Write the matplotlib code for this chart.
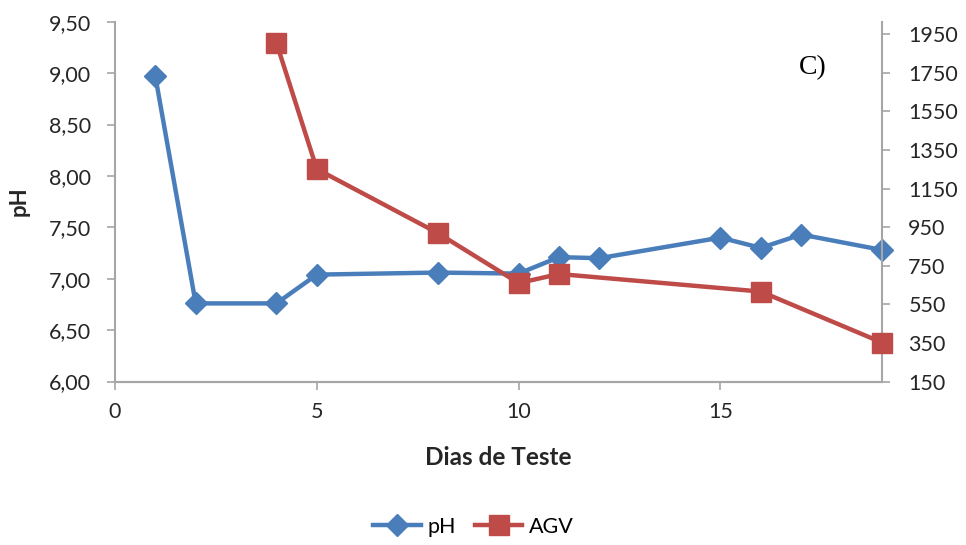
import matplotlib
matplotlib.use("Agg")
import matplotlib.pyplot as plt
from matplotlib.ticker import FuncFormatter
from matplotlib.lines import Line2D

ph_days = [1, 2, 4, 5, 8, 10, 11, 12, 15, 16, 17, 19]
ph_values = [8.97, 6.76, 6.76, 7.04, 7.06, 7.05, 7.21, 7.20, 7.40, 7.30, 7.43, 7.28]
agv_days = [4, 5, 8, 10, 11, 16, 19]
agv_values = [1905, 1251, 919, 660, 707, 616, 352]

left_ticks = [6.0, 6.5, 7.0, 7.5, 8.0, 8.5, 9.0, 9.5]
right_ticks = [150, 350, 550, 750, 950, 1150, 1350, 1550, 1750, 1950]
x_ticks = [0, 5, 10, 15]

blue = "#4A7EBB"
red = "#BE4B48"
grey = "#A6A6A6"
txt = "#262626"

plt.rcParams['font.family'] = ['Lato', 'DejaVu Sans']

fig = plt.figure(figsize=(9.66, 5.45), dpi=100)
ax = fig.add_axes([0.119, 0.300, 0.794, 0.660])
ax2 = ax.twinx()

ax.plot(ph_days, ph_values, color=blue, lw=3.2, marker='D', ms=11, zorder=3, clip_on=False)
ax2.plot(agv_days, agv_values, color=red, lw=3.2, marker='s', ms=14, zorder=3, clip_on=False)

ax.set_xlim(0, 19)
ax.set_ylim(6.0, 9.5)
ax2.set_ylim(150, 2014)
ax.set_xticks(x_ticks)
ax.set_yticks(left_ticks)
ax2.set_yticks(right_ticks)
ax.yaxis.set_major_formatter(FuncFormatter(lambda v, p: f"{v:.2f}".replace('.', ',')))

for a in (ax, ax2):
    for s in a.spines.values():
        s.set_color(grey)
        s.set_linewidth(1.5)
    a.spines['top'].set_visible(False)
    a.tick_params(colors=grey, labelcolor=txt, labelsize=15.5, length=6, width=1.2, direction='out')
ax2.spines['left'].set_visible(False)
ax.spines['right'].set_visible(False)
ax2.spines['right'].set_visible(True)
ax.tick_params(axis='x', pad=9)
ax.tick_params(axis='y', pad=11)
ax2.tick_params(axis='y', pad=13)

ax.set_xlabel("Dias de Teste", fontsize=17.5, fontweight='bold', color=txt, labelpad=17)
ax.set_ylabel("pH", fontsize=16, fontweight='bold', color=txt, labelpad=14)

ax.text(813 / 966, 1 - 68 / 545, "C)", transform=fig.transFigure, fontsize=20,
        family='Liberation Serif', color='black', ha='center', va='center')

handles = [Line2D([], [], color=blue, lw=3.2, marker='D', ms=11),
           Line2D([], [], color=red, lw=3.2, marker='s', ms=14)]
fig.legend(handles, ["pH", "AGV"], loc='center', bbox_to_anchor=(0.49, 0.033), ncol=2,
           frameon=False, fontsize=15.5, handlelength=2.2, columnspacing=0.9, handletextpad=0.3)

fig.savefig("out.png", dpi=100)
